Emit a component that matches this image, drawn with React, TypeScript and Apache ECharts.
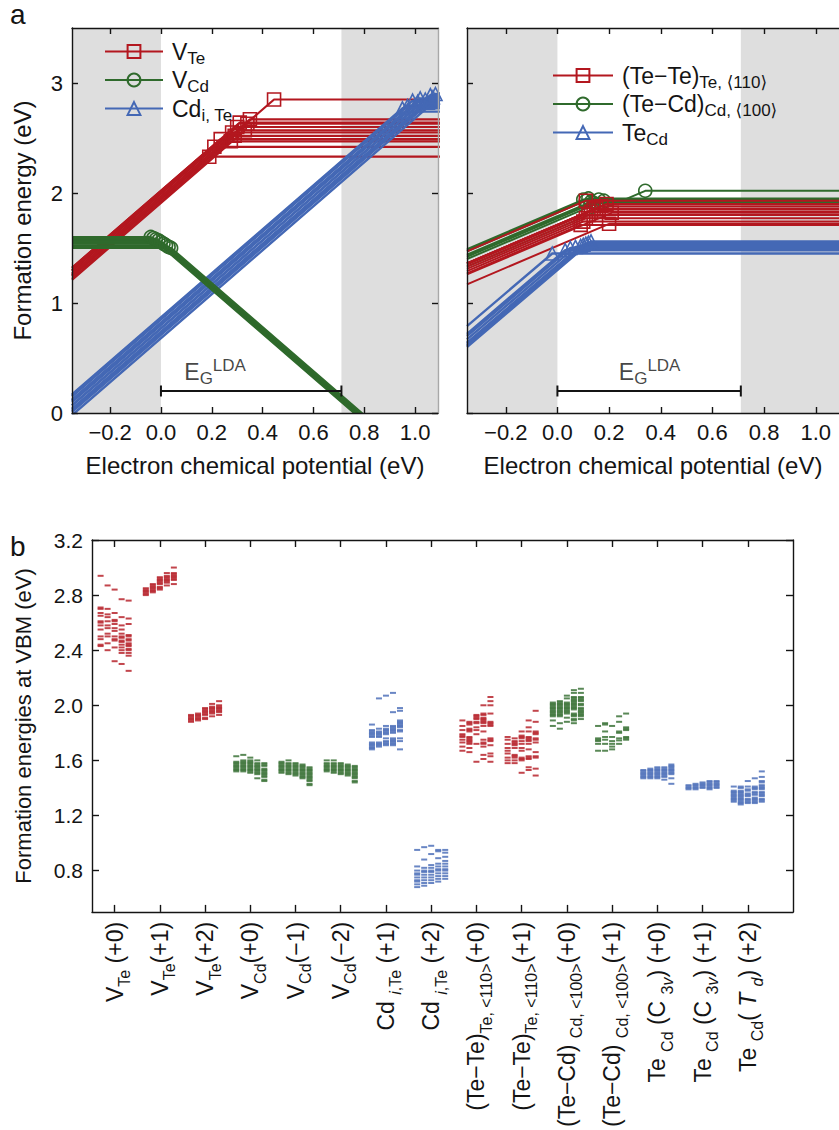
import React, { useEffect, useRef } from 'react';
import * as echarts from 'echarts';

const RED = '#b3171f';
const GREEN = '#2f6a2c';
const BLUE = '#4468b5';
const SHADE = '#dedede';
const INK = '#141414';
const FONT = '"Liberation Sans", Arial, Helvetica, "DejaVu Sans", sans-serif';

// ---------- panel a: axis ranges / ticks ----------
const MU_MIN = -0.35;
const MU_MAX = 1.09;
const GAP_LDA = 0.71;
const EG_BAR_Y = 0.2;
const MU_TICKS = [-0.2, 0, 0.2, 0.4, 0.6, 0.8, 1.0];
const E_TICKS_A = [0, 1, 2, 3];

// transition points (kink mu, formation energy) for each configuration
const VTE_KX = [0.19, 0.21, 0.275, 0.235, 0.29, 0.28, 0.33, 0.3, 0.34, 0.31, 0.35, 0.445];
const VTE_KY = [2.33, 2.42, 2.47, 2.49, 2.52, 2.55, 2.57, 2.6, 2.63, 2.64, 2.67, 2.85];
const VCD_KX = [-0.04, -0.03, -0.02, -0.01, 0.0, 0.01, 0.02, 0.03, 0.04];
const VCD_KY = [1.6, 1.59, 1.58, 1.57, 1.555, 1.54, 1.525, 1.51, 1.5];
const CDI_KX = [0.95, 0.96, 0.97, 0.99, 1.0, 1.01, 1.02, 1.04, 1.05, 1.06, 1.07, 1.08, 1.11, 1.12];
const CDI_KY = [2.77, 2.74, 2.79, 2.84, 2.8, 2.83, 2.86, 2.85, 2.82, 2.89, 2.87, 2.9, 2.93, 2.92];

const TETE_KX = [0.09, 0.1, 0.11, 0.12, 0.13, 0.14, 0.15, 0.17, 0.19, 0.2, 0.21, 0.11];
const TETE_KY = [1.71, 1.74, 1.77, 1.8, 1.83, 1.85, 1.86, 1.88, 1.9, 1.72, 1.82, 1.93];
const TECD_KX = [0.1, 0.11, 0.12, 0.13, 0.14, 0.16, 0.18, 0.34];
const TECD_KY = [1.94, 1.93, 1.95, 1.92, 1.91, 1.94, 1.93, 2.02];
const TEAS_KX = [-0.02, 0.03, 0.05, 0.07, 0.09, 0.1, 0.11, 0.12, 0.13];
const TEAS_KY = [1.45, 1.48, 1.5, 1.51, 1.52, 1.53, 1.54, 1.55, 1.56];

// ---------- panel b ----------
const E_TICKS_B = [0.8, 1.2, 1.6, 2.0, 2.4, 2.8, 3.2];
const CAT_INDEX = [0, 1, 2, 3, 4, 5, 6, 7, 8, 9, 10, 11, 12, 13, 14];
const CAT_LABELS = [
  '{n|V}{s|Te}{n| (+0)}',
  '{n|V}{s|Te}{n|(+1)}',
  '{n|V}{s|Te}{n|(+2)}',
  '{n|V}{s|Cd}{n|(+0)}',
  '{n|V}{s|Cd}{n|(−1)}',
  '{n|V}{s|Cd}{n|(−2)}',
  '{n|Cd }{si|i}{s|,Te}{n| (+1)}',
  '{n|Cd }{si|i}{s|,Te}{n| (+2)}',
  '{n|(Te−Te)}{s|Te, <110>}{n|(+0)}',
  '{n|(Te−Te)}{s|Te, <110>}{n|(+1)}',
  '{n|(Te−Cd) }{s|Cd, <100>}{n|(+0)}',
  '{n|(Te−Cd) }{s|Cd, <100>}{n|(+1)}',
  '{n|Te }{s|Cd}{n| (C }{s|3}{si|v}{n|) (+0)}',
  '{n|Te }{s|Cd}{n| (C }{s|3}{si|v}{n|) (+1)}',
  '{n|Te }{s|Cd}{n|( }{ni|T}{n| }{si|d}{n|) (+2)}',
];

// five sub-columns of formation energies for each defect/charge state
const P_VTE0 = [
  [2.94, 2.71, 2.7, 2.67, 2.65, 2.61, 2.6, 2.58, 2.55, 2.5, 2.48, 2.44, 2.43],
  [2.87, 2.7, 2.66, 2.64, 2.61, 2.58, 2.56, 2.52, 2.5, 2.45, 2.4],
  [2.84, 2.67, 2.62, 2.61, 2.59, 2.56, 2.54, 2.5, 2.48, 2.47, 2.42, 2.32],
  [2.77, 2.64, 2.58, 2.55, 2.52, 2.5, 2.49, 2.47, 2.46, 2.44, 2.42, 2.4, 2.38, 2.3],
  [2.76, 2.63, 2.59, 2.51, 2.5, 2.48, 2.47, 2.45, 2.44, 2.43, 2.41, 2.4, 2.38, 2.36, 2.25],
];
const P_VTE1 = [
  [2.85, 2.84, 2.83, 2.82, 2.81, 2.8],
  [2.88, 2.87, 2.86, 2.85, 2.84, 2.83, 2.82],
  [2.93, 2.92, 2.91, 2.9, 2.89, 2.88, 2.86, 2.85, 2.84],
  [2.96, 2.94, 2.93, 2.92, 2.91, 2.9, 2.89, 2.87],
  [3.0, 2.96, 2.95, 2.94, 2.93, 2.92, 2.91, 2.88],
];
const P_VTE2 = [
  [1.93, 1.92, 1.91, 1.9, 1.89, 1.88],
  [1.94, 1.93, 1.92, 1.91, 1.9, 1.89],
  [1.98, 1.97, 1.96, 1.95, 1.94, 1.93, 1.91, 1.9],
  [2.01, 1.99, 1.98, 1.97, 1.96, 1.95, 1.94, 1.92],
  [2.03, 2.0, 1.99, 1.98, 1.97, 1.96, 1.95, 1.93],
];
const P_VCD0 = [
  [1.63, 1.59, 1.58, 1.57, 1.56, 1.55, 1.54, 1.53, 1.52],
  [1.64, 1.6, 1.59, 1.58, 1.57, 1.56, 1.55, 1.54, 1.53, 1.52],
  [1.62, 1.6, 1.59, 1.58, 1.57, 1.56, 1.55, 1.54, 1.53, 1.52, 1.51],
  [1.6, 1.58, 1.57, 1.56, 1.55, 1.54, 1.53, 1.52, 1.51, 1.5, 1.47],
  [1.58, 1.57, 1.56, 1.54, 1.53, 1.52, 1.51, 1.5, 1.49, 1.48, 1.46, 1.45],
];
const P_VCDM1 = [
  [1.59, 1.58, 1.57, 1.56, 1.55, 1.54, 1.53, 1.52, 1.51],
  [1.6, 1.58, 1.57, 1.56, 1.55, 1.54, 1.53, 1.52, 1.51, 1.5],
  [1.58, 1.57, 1.56, 1.55, 1.54, 1.53, 1.52, 1.51, 1.5, 1.49],
  [1.57, 1.56, 1.55, 1.54, 1.53, 1.52, 1.51, 1.5, 1.49, 1.48, 1.47],
  [1.55, 1.54, 1.53, 1.52, 1.51, 1.5, 1.49, 1.48, 1.47, 1.46, 1.45, 1.43, 1.42],
];
const P_VCDM2 = [
  [1.6, 1.58, 1.57, 1.56, 1.55, 1.54, 1.53, 1.52],
  [1.6, 1.58, 1.57, 1.56, 1.55, 1.54, 1.53, 1.52, 1.51],
  [1.58, 1.57, 1.56, 1.55, 1.54, 1.53, 1.52, 1.51, 1.5],
  [1.57, 1.56, 1.55, 1.54, 1.53, 1.52, 1.51, 1.5, 1.49],
  [1.56, 1.55, 1.54, 1.53, 1.52, 1.51, 1.5, 1.49, 1.48, 1.47, 1.45, 1.44],
];
const P_CDI1 = [
  [1.86, 1.82, 1.81, 1.8, 1.79, 1.78, 1.77, 1.73, 1.72, 1.71, 1.7, 1.69, 1.68],
  [2.05, 1.83, 1.81, 1.8, 1.79, 1.78, 1.77, 1.73, 1.72, 1.71, 1.7],
  [2.07, 1.85, 1.83, 1.82, 1.81, 1.8, 1.79, 1.76, 1.74, 1.73, 1.72, 1.71],
  [2.09, 1.95, 1.85, 1.84, 1.83, 1.82, 1.81, 1.8, 1.76, 1.75, 1.74, 1.73, 1.72, 1.71],
  [1.98, 1.96, 1.89, 1.88, 1.87, 1.86, 1.85, 1.84, 1.82, 1.81, 1.76, 1.74, 1.68],
];
const P_CDI2 = [
  [0.95, 0.83, 0.8, 0.78, 0.77, 0.75, 0.73, 0.72, 0.7, 0.68],
  [0.97, 0.88, 0.82, 0.8, 0.79, 0.77, 0.75, 0.73, 0.71, 0.69],
  [0.98, 0.92, 0.84, 0.82, 0.8, 0.79, 0.77, 0.75, 0.73, 0.71],
  [0.95, 0.94, 0.89, 0.85, 0.83, 0.81, 0.8, 0.78, 0.76, 0.74, 0.72],
  [0.95, 0.93, 0.9, 0.87, 0.85, 0.83, 0.81, 0.8, 0.78, 0.76, 0.74],
];
const P_TETE0 = [
  [1.89, 1.85, 1.82, 1.79, 1.78, 1.77, 1.75, 1.73, 1.7, 1.67],
  [1.88, 1.87, 1.86, 1.83, 1.82, 1.81, 1.77, 1.76, 1.75, 1.74, 1.73, 1.72, 1.69, 1.66],
  [1.93, 1.92, 1.91, 1.9, 1.88, 1.87, 1.84, 1.82, 1.79, 1.72, 1.59],
  [2.0, 1.94, 1.93, 1.91, 1.9, 1.89, 1.88, 1.87, 1.85, 1.81, 1.75, 1.73, 1.72, 1.7, 1.64, 1.61],
  [2.06, 2.03, 2.0, 1.94, 1.88, 1.87, 1.86, 1.85, 1.76, 1.75, 1.74, 1.71, 1.65, 1.63, 1.59],
];
const P_TETE1 = [
  [1.77, 1.75, 1.72, 1.69, 1.67, 1.65, 1.62, 1.6, 1.58],
  [1.76, 1.74, 1.73, 1.72, 1.71, 1.69, 1.64, 1.63, 1.62, 1.6, 1.58],
  [1.81, 1.78, 1.77, 1.76, 1.74, 1.72, 1.69, 1.67, 1.62, 1.61, 1.6, 1.51],
  [1.89, 1.84, 1.81, 1.77, 1.76, 1.75, 1.74, 1.72, 1.68, 1.63, 1.62, 1.61, 1.55, 1.53],
  [1.96, 1.88, 1.81, 1.8, 1.79, 1.76, 1.75, 1.73, 1.66, 1.63, 1.62, 1.54, 1.49],
];
const P_TECD0 = [
  [2.02, 2.01, 2.0, 1.99, 1.98, 1.97, 1.96, 1.95, 1.94, 1.93, 1.92, 1.89, 1.85],
  [2.03, 2.02, 2.01, 2.0, 1.99, 1.98, 1.97, 1.96, 1.95, 1.94, 1.93, 1.92, 1.87, 1.83],
  [2.07, 2.05, 2.02, 2.01, 2.0, 1.99, 1.98, 1.97, 1.96, 1.95, 1.94, 1.91, 1.88],
  [2.11, 2.09, 2.06, 2.05, 2.04, 2.03, 2.02, 2.01, 2.0, 1.99, 1.98, 1.97, 1.94, 1.93, 1.92, 1.9, 1.89, 1.87],
  [2.12, 2.09, 2.06, 2.05, 2.04, 2.03, 2.01, 2.0, 1.98, 1.97, 1.96, 1.95, 1.94, 1.93, 1.92, 1.9],
];
const P_TECD1 = [
  [1.85, 1.76, 1.75, 1.74, 1.72, 1.67],
  [1.87, 1.86, 1.81, 1.77, 1.75, 1.72, 1.67],
  [1.85, 1.77, 1.74, 1.72, 1.7, 1.68],
  [1.92, 1.88, 1.81, 1.8, 1.76, 1.745, 1.72],
  [1.94, 1.84, 1.83, 1.82, 1.77, 1.76, 1.75],
];
const P_TEAS_C3V0 = [
  [1.53, 1.52, 1.51, 1.5, 1.49, 1.48, 1.47],
  [1.54, 1.53, 1.52, 1.51, 1.5, 1.49, 1.48, 1.47],
  [1.55, 1.54, 1.53, 1.52, 1.51, 1.5, 1.49, 1.48, 1.47],
  [1.55, 1.54, 1.53, 1.52, 1.51, 1.5, 1.49, 1.48, 1.46],
  [1.57, 1.56, 1.55, 1.54, 1.53, 1.52, 1.51, 1.5, 1.47, 1.43],
];
const P_TEAS_C3V1 = [
  [1.42, 1.41, 1.4, 1.39],
  [1.43, 1.42, 1.41, 1.4, 1.39],
  [1.44, 1.43, 1.42, 1.41, 1.4],
  [1.45, 1.44, 1.43, 1.42, 1.41, 1.4, 1.39],
  [1.45, 1.44, 1.43, 1.42, 1.41, 1.4],
];
const P_TEAS_TD2 = [
  [1.41, 1.38, 1.37, 1.36, 1.35, 1.34, 1.33, 1.32, 1.31, 1.3],
  [1.41, 1.4, 1.38, 1.37, 1.36, 1.35, 1.34, 1.33, 1.32, 1.31, 1.3, 1.29, 1.28],
  [1.45, 1.41, 1.39, 1.38, 1.36, 1.35, 1.34, 1.32, 1.31, 1.3, 1.29],
  [1.47, 1.41, 1.4, 1.39, 1.37, 1.36, 1.35, 1.33, 1.32, 1.31, 1.3, 1.29],
  [1.52, 1.48, 1.45, 1.44, 1.42, 1.41, 1.4, 1.39, 1.37, 1.36, 1.35, 1.34, 1.32, 1.31, 1.3],
];
const PB_DATA = [
  P_VTE0, P_VTE1, P_VTE2, P_VCD0, P_VCDM1, P_VCDM2, P_CDI1, P_CDI2,
  P_TETE0, P_TETE1, P_TECD0, P_TECD1, P_TEAS_C3V0, P_TEAS_C3V1, P_TEAS_TD2,
];
const PB_COLORS = [RED, RED, RED, GREEN, GREEN, GREEN, BLUE, BLUE, RED, RED, GREEN, GREEN, BLUE, BLUE, BLUE];
const SUB_STEP = 0.155;

// ---------- legend text ----------
const LEGEND_TEXT: Record<string, string> = {
  VTe: '{g| }{n|V}{s|Te}',
  VCd: '{g| }{n|V}{s|Cd}',
  CdiTe: '{g| }{n|Cd}{s|i, Te}',
  TeTe: '{g| }{n|(Te−Te)}{s|Te, ⟨110⟩}',
  TeCdSplit: '{g| }{n|(Te−Cd)}{s|Cd, ⟨100⟩}',
  TeCd: '{g| }{n|Te}{s|Cd}',
};

const richMain = (size: number, lh: number, sub = Math.round(size * 0.72)) => ({
  n: { fontSize: size, lineHeight: lh, fontFamily: FONT, color: INK },
  ni: { fontSize: size, lineHeight: lh, fontFamily: FONT, color: INK, fontStyle: 'italic' },
  s: { fontSize: sub, lineHeight: sub, verticalAlign: 'bottom', fontFamily: FONT, color: INK },
  si: { fontSize: sub, lineHeight: sub, verticalAlign: 'bottom', fontFamily: FONT, color: INK, fontStyle: 'italic' },
  p: { fontSize: sub, lineHeight: sub, verticalAlign: 'top', fontFamily: FONT, color: INK },
  g: { width: 4, fontSize: 2 },
});

const fmtMu = (v: number) => (v < 0 ? '−' : '') + Math.abs(v).toFixed(1);

function defectLines(
  name: string, color: string, symbol: string, kx: number[], ky: number[],
  slopeL: number, slopeR: number, xi: number, yi: number, z: number, width = 2,
) {
  return kx.map((x, i) => ({
    type: 'line', name, xAxisIndex: xi, yAxisIndex: yi, z,
    symbol, symbolSize: 13, showSymbol: true, clip: true, silent: true,
    lineStyle: { color, width },
    itemStyle: { color: 'rgba(255,255,255,0)', borderColor: color, borderWidth: 1.6 },
    emphasis: { disabled: true },
    data: [
      { value: [MU_MIN, ky[i] - slopeL * (x - MU_MIN)], symbol: 'none' },
      { value: [x, ky[i]] },
      { value: [MU_MAX + 0.05, ky[i] + slopeR * (MU_MAX + 0.05 - x)], symbol: 'none' },
    ],
  }));
}

const lineAx = (color = INK) => ({ onZero: false, lineStyle: { color, width: 1.4 } });
const tickAx = (vals: number[] | undefined, len = 6) => ({
  inside: true, length: len, lineStyle: { color: INK, width: 1.4 }, ...(vals ? { customValues: vals } : {}),
});

function buildOption() {
  const muX = (grid: number, withLabels: boolean, pos: string) => ({
    type: 'value', gridIndex: grid, position: pos, min: MU_MIN, max: MU_MAX, z: 6,
    axisLine: lineAx(), axisTick: tickAx(MU_TICKS), splitLine: { show: false },
    axisLabel: withLabels
      ? { customValues: MU_TICKS, formatter: fmtMu, fontSize: 22, color: INK, fontFamily: FONT, margin: 8 }
      : { show: false },
    ...(withLabels
      ? { name: 'Electron chemical potential (eV)', nameLocation: 'middle', nameGap: 40,
          nameTextStyle: { fontSize: 24, color: INK, fontFamily: FONT } }
      : {}),
  });
  const eY = (grid: number, pos: string, withLabels: boolean, color = INK) => ({
    type: 'value', gridIndex: grid, position: pos, min: 0, max: 3.5, z: 6,
    axisLine: lineAx(color), axisTick: tickAx(E_TICKS_A), splitLine: { show: false },
    axisLabel: withLabels
      ? { customValues: E_TICKS_A, fontSize: 22, color: INK, fontFamily: FONT, margin: 9 }
      : { show: false },
    ...(withLabels
      ? { name: 'Formation energy (eV)', nameLocation: 'middle', nameGap: 38,
          nameTextStyle: { fontSize: 24, color: INK, fontFamily: FONT } }
      : {}),
  });

  const shade = {
    silent: true, z: 1,
    itemStyle: { color: SHADE },
    data: [
      [{ xAxis: MU_MIN }, { xAxis: 0 }],
      [{ xAxis: GAP_LDA }, { xAxis: MU_MAX }],
    ],
  };
  const egBar = (xi: number, yi: number) => ({
    type: 'line', xAxisIndex: xi, yAxisIndex: yi, z: 8, silent: true,
    data: [[0, EG_BAR_Y], [GAP_LDA, EG_BAR_Y]],
    symbol: 'rect', symbolSize: [2, 11], showSymbol: true,
    lineStyle: { color: INK, width: 2 }, itemStyle: { color: INK },
    markArea: shade,
  });
  const egText = (xi: number, yi: number, x: number) => ({
    type: 'scatter', xAxisIndex: xi, yAxisIndex: yi, z: 8, silent: true,
    symbolSize: 0, data: [[x, 0.37]],
    label: {
      show: true, position: 'inside', formatter: '{n|E}{s|G}{p|LDA}', rich: richMain(23, 30, 17),
    },
  });

  const pbSeries = PB_DATA.map((cols, ci) => ({
    type: 'scatter', xAxisIndex: 4, yAxisIndex: 3, z: 3, silent: true,
    symbol: 'rect', symbolSize: [6, 2],
    itemStyle: { color: PB_COLORS[ci] },
    data: cols.flatMap((vals, k) => vals.map((v) => [CAT_INDEX[ci] + (k - 2) * SUB_STEP, v])),
  }));

  return {
    animation: false,
    backgroundColor: '#ffffff',
    textStyle: { fontFamily: FONT },
    grid: [
      { left: 72, top: 28, width: 366, height: 385 },
      { left: 467, top: 28, width: 377, height: 385 },
      { left: 92, top: 540, width: 701, height: 372 },
    ],
    xAxis: [
      muX(0, true, 'bottom'),
      muX(0, false, 'top'),
      muX(1, true, 'bottom'),
      muX(1, false, 'top'),
      {
        type: 'value', gridIndex: 2, position: 'bottom', min: -0.5, max: 15, z: 6,
        axisLine: lineAx(), axisTick: tickAx(CAT_INDEX, 7), splitLine: { show: false },
        axisLabel: {
          customValues: CAT_INDEX, rotate: 90, margin: 10,
          formatter: (v: number) => CAT_LABELS[Math.round(v)] || '',
          rich: richMain(23, 36, 16),
        },
      },
      {
        type: 'value', gridIndex: 2, position: 'top', min: -0.5, max: 15, z: 6,
        axisLine: lineAx(), axisTick: tickAx(CAT_INDEX, 7), splitLine: { show: false },
        axisLabel: { show: false },
      },
    ],
    yAxis: [
      eY(0, 'left', true),
      eY(0, 'right', false, '#a8a8a8'),
      eY(1, 'left', false),
      {
        type: 'value', gridIndex: 2, position: 'left', min: 0.5, max: 3.2, z: 6,
        axisLine: lineAx(), axisTick: tickAx(E_TICKS_B, 7), splitLine: { show: false },
        axisLabel: {
          customValues: E_TICKS_B, formatter: (v: number) => v.toFixed(1),
          fontSize: 21, color: INK, fontFamily: FONT, margin: 9,
        },
        name: 'Formation energies at VBM (eV)', nameLocation: 'middle', nameGap: 58,
        nameTextStyle: { fontSize: 22, color: INK, fontFamily: FONT },
      },
      {
        type: 'value', gridIndex: 2, position: 'right', min: 0.5, max: 3.2, z: 6,
        axisLine: lineAx(), axisTick: tickAx(E_TICKS_B, 7), splitLine: { show: false },
        axisLabel: { show: false },
      },
    ],
    legend: [
      {
        orient: 'vertical', left: 99, top: 35, itemWidth: 58, itemHeight: 16, itemGap: 2,
        selectedMode: false, data: ['VTe', 'VCd', 'CdiTe'],
        formatter: (n: string) => LEGEND_TEXT[n],
        textStyle: { fontSize: 22, color: INK, fontFamily: FONT, rich: richMain(23, 30, 17) },
      },
      {
        orient: 'vertical', left: 547, top: 59, itemWidth: 60, itemHeight: 16, itemGap: 2,
        selectedMode: false, data: ['TeTe', 'TeCdSplit', 'TeCd'],
        formatter: (n: string) => LEGEND_TEXT[n],
        textStyle: { fontSize: 22, color: INK, fontFamily: FONT, rich: richMain(23, 30, 17) },
      },
    ],
    graphic: [
      { type: 'text', left: 10, top: 0, style: { text: 'a', fontSize: 28, fill: INK, fontFamily: FONT } },
      { type: 'text', left: 10, top: 532, style: { text: 'b', fontSize: 28, fill: INK, fontFamily: FONT } },
    ],
    series: [
      egBar(0, 0),
      ...defectLines('VTe', RED, 'rect', VTE_KX, VTE_KY, 2, 0, 0, 0, 3, 2.2),
      ...defectLines('CdiTe', BLUE, 'triangle', CDI_KX, CDI_KY, 2, 0, 0, 0, 4, 2.4),
      ...defectLines('VCd', GREEN, 'circle', VCD_KX, VCD_KY, 0, -2, 0, 0, 5, 2.2),
      egText(0, 0, 0.213),
      egBar(2, 2),
      ...defectLines('TeCdSplit', GREEN, 'circle', TECD_KX, TECD_KY, 1, 0, 2, 2, 3),
      ...defectLines('TeTe', RED, 'rect', TETE_KX, TETE_KY, 1, 0, 2, 2, 4),
      ...defectLines('TeCd', BLUE, 'triangle', TEAS_KX, TEAS_KY, 2, 0, 2, 2, 5, 2.4),
      egText(2, 2, 0.357),
      ...pbSeries,
    ],
  };
}

export default function App() {
  const ref = useRef<HTMLDivElement>(null);
  useEffect(() => {
    const chart = echarts.init(ref.current as HTMLDivElement, undefined, { renderer: 'svg' });
    chart.setOption(buildOption() as any);
    return () => chart.dispose();
  }, []);
  return (
    <div
      ref={ref}
      style={{ position: 'absolute', left: 0, top: 0, width: 839, height: 1130, background: '#fff' }}
    />
  );
}
